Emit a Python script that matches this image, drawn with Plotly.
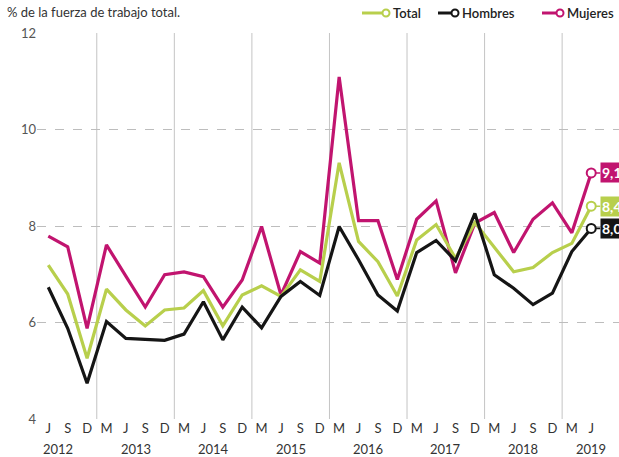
import plotly.graph_objects as go

# ---- data ----
quarters = ["J", "S", "D",
            "M", "J", "S", "D",
            "M", "J", "S", "D",
            "M", "J", "S", "D",
            "M", "J", "S", "D",
            "M", "J", "S", "D",
            "M", "J", "S", "D",
            "M", "J"]
years = [2012, 2012, 2012,
         2013, 2013, 2013, 2013,
         2014, 2014, 2014, 2014,
         2015, 2015, 2015, 2015,
         2016, 2016, 2016, 2016,
         2017, 2017, 2017, 2017,
         2018, 2018, 2018, 2018,
         2019, 2019]
total = [7.19, 6.59, 5.26, 6.69, 6.26, 5.93, 6.26, 6.30, 6.66, 5.93,
         6.57, 6.76, 6.54, 7.09, 6.85, 9.31, 7.68, 7.26, 6.55, 7.71,
         8.03, 7.33, 8.07, 7.55, 7.05, 7.14, 7.45, 7.64, 8.41]
hombres = [6.73, 5.88, 4.74, 6.02, 5.67, 5.65, 5.63, 5.76, 6.43, 5.64,
           6.32, 5.89, 6.54, 6.85, 6.56, 7.99, 7.30, 6.57, 6.24, 7.45,
           7.70, 7.28, 8.26, 6.99, 6.71, 6.37, 6.61, 7.47, 7.95]
mujeres = [7.79, 7.57, 5.88, 7.61, 6.96, 6.32, 6.99, 7.05, 6.95, 6.32,
           6.88, 7.99, 6.57, 7.47, 7.23, 11.09, 8.11, 8.11, 6.89, 8.14,
           8.52, 7.03, 8.06, 8.28, 7.45, 8.14, 8.48, 7.86, 9.10]
end_labels = {"Total": "8,4", "Hombres": "8,0", "Mujeres": "9,1"}
y_ticks = [4, 6, 8, 10, 12]
subtitle = "% de la fuerza de trabajo total."

GREEN = "#b8cf4c"
BLACK = "#151515"
MAGENTA = "#c1146f"
FONT = "Lato, 'Open Sans', sans-serif"

series = [("Mujeres", mujeres, MAGENTA), ("Total", total, GREEN), ("Hombres", hombres, BLACK)]

W, H = 619, 457
ML, MR, MT, MB = 37, 0, 33, 38
PW, PH = W - ML - MR, H - MT - MB

x = list(range(len(quarters)))
n = len(x)
step = 19.39
x0 = -(48.3 - ML) / step
x1 = x0 + PW / step

fig = go.Figure()
for name, vals, col in series:
    fig.add_trace(go.Scatter(x=x, y=vals, mode="lines", name=name,
                             line=dict(color=col, width=3.2), showlegend=False,
                             hoverinfo="skip"))
for name, vals, col in series:
    fig.add_trace(go.Scatter(x=[x[-1]], y=[vals[-1]], mode="markers",
                             marker=dict(symbol="circle", size=9, color="white",
                                         line=dict(color=col, width=2)),
                             showlegend=False, hoverinfo="skip", cliponaxis=False))

shapes = []
# year separators (between D and M)
for i in range(n - 1):
    if years[i] != years[i + 1]:
        shapes.append(dict(type="line", xref="x", yref="y", x0=i + 0.5, x1=i + 0.5,
                           y0=y_ticks[0], y1=y_ticks[-1], layer="below",
                           line=dict(color="#c4c4c4", width=1)))

annotations = []
# year labels: midpoint of J and S, or J if only J available
for yr in sorted(set(years)):
    idxs = [i for i in range(n) if years[i] == yr]
    js = [i for i in idxs if quarters[i] == "J"]
    ss = [i for i in idxs if quarters[i] == "S"]
    pos = (js[0] + ss[0]) / 2 if ss else js[0]
    annotations.append(dict(x=pos, xref="x", y=0, yref="paper", yanchor="top",
                            yshift=-20, text=str(yr), showarrow=False,
                            font=dict(family=FONT, size=13, color="#333")))

# end labels
for name, vals, col in series:
    annotations.append(dict(x=x[-1], y=vals[-1], xref="x", yref="y",
                            text="<b>" + end_labels[name] + "</b>",
                            showarrow=True, arrowhead=0, arrowwidth=1.6, arrowcolor=col,
                            ax=9, ay=0, standoff=4, xanchor="left",
                            bgcolor=col, borderpad=1,
                            font=dict(family=FONT, size=14, color="white")))

def px(xp):
    return (xp - ML) / PW

def py(yp):
    return (H - MB - yp) / PH

# subtitle
annotations.append(dict(x=px(5), y=py(12), xref="paper", yref="paper",
                        xanchor="left", yanchor="middle", text=subtitle,
                        showarrow=False, font=dict(family=FONT, size=13, color="#333")))

# custom legend: (name, colour, line start, line end, circle centre, text start)
legend_items = [("Total", GREEN, 362, 382, 386, 391),
                ("Hombres", BLACK, 438, 451, 455, 460),
                ("Mujeres", MAGENTA, 542, 556, 560, 565)]
for name, col, lx0, lx1, cx, tx in legend_items:
    shapes.append(dict(type="line", xref="paper", yref="paper",
                       x0=px(lx0), x1=px(lx1), y0=py(13), y1=py(13),
                       line=dict(color=col, width=3)))
    shapes.append(dict(type="circle", xref="paper", yref="paper",
                       xsizemode="pixel", ysizemode="pixel",
                       xanchor=px(cx), yanchor=py(13),
                       x0=-3.5, x1=3.5, y0=-3.5, y1=3.5,
                       fillcolor="white", line=dict(color=col, width=2)))
    annotations.append(dict(x=px(tx), y=py(13), xref="paper", yref="paper",
                            xanchor="left", yanchor="middle", text=name, showarrow=False,
                            font=dict(family=FONT, size=13, color="#222", weight=600)))

fig.update_layout(
    width=W, height=H,
    margin=dict(l=ML, r=MR, t=MT, b=MB, pad=0),
    paper_bgcolor="white", plot_bgcolor="white",
    showlegend=False,
    xaxis=dict(range=[x0, x1], tickvals=x, ticktext=quarters, showgrid=False,
               zeroline=False, showline=False, ticks="",
               tickfont=dict(family=FONT, size=13, color="#333")),
    yaxis=dict(range=[y_ticks[0], y_ticks[-1]], tickvals=y_ticks,
               showgrid=True, gridcolor="#bdbdbd", griddash="dash", gridwidth=1,
               zeroline=False, showline=False, ticks="",
               tickfont=dict(family=FONT, size=13, color="#555")),
    shapes=shapes, annotations=annotations,
)

fig.write_html("out.html", config={"displayModeBar": False},
               post_script="document.body.style.margin='0px';document.body.style.overflow='hidden';")
